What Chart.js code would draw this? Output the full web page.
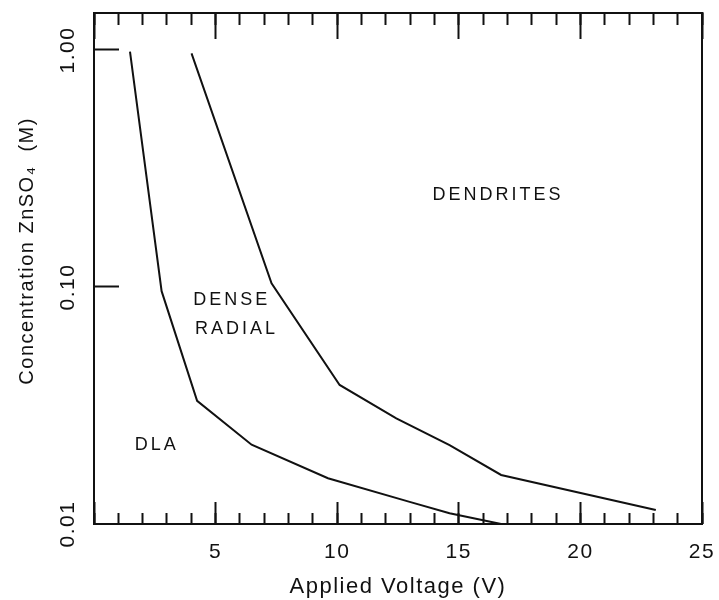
<!DOCTYPE html>
<html>
<head>
<meta charset="utf-8">
<title>ZnSO4 growth morphology diagram</title>
<script src="https://cdn.jsdelivr.net/npm/chart.js@4/dist/chart.umd.min.js"></script>
<style>
    html, body { margin: 0; padding: 0; background: #ffffff; }
    #wrap { width: 719px; height: 600px; }
</style>
</head>
<body>
<div id="wrap"><canvas id="phase-chart" width="719" height="600"></canvas></div>
<script>
// DLA / dense radial boundary
const dlaVoltage = [1.48, 2.78, 4.24, 6.48, 9.62, 12.98, 14.62, 16.74];
const dlaConc = [0.985, 0.096, 0.0331, 0.0216, 0.0156, 0.0124, 0.0111, 0.0100];

// dense radial / dendrites boundary
const dendVoltage = [4.01, 7.30, 10.1, 12.43, 14.62, 16.74, 23.1];
const dendConc = [0.968, 0.1037, 0.0386, 0.0279, 0.0215, 0.0161, 0.01146];

// axes
const xRange = [0, 25];
const xMajorStep = 5;
const xMinorStep = 1;
const yRange = [0.01, 1.432];
const yTickValues = [0.01, 0.1, 1];
const yTickLabels = ['0.01', '0.10', '1.00'];
const yMarkValues = [0.1, 1];

// region names written inside the plot
const regionNames = ['DENDRITES', 'DENSE', 'RADIAL', 'DLA'];
const regionVoltage = [13.92, 4.08, 4.15, 1.68];
const regionConc = [0.244, 0.0881, 0.0665, 0.0216];

const INK = '#111111';
const FONT = '"Liberation Sans", Arial, sans-serif';

const toPoints = (xs, ys) => xs.map((x, i) => ({ x: x, y: ys[i] }));

// inward tick marks are drawn by extra zero-size axes
function tickAxis(position, step, length, extra) {
    const horizontal = position === 'top' || position === 'bottom';
    return Object.assign({
        type: horizontal ? 'linear' : 'logarithmic',
        position: position,
        min: horizontal ? xRange[0] : yRange[0],
        max: horizontal ? xRange[1] : yRange[1],
        weight: 0,
        afterFit: (s) => {
            if (horizontal) s.height = 0; else s.width = 0;
            s.paddingLeft = s.paddingRight = s.paddingTop = s.paddingBottom = 0;
        },
        ticks: { display: false, stepSize: step, autoSkip: false },
        grid: { drawOnChartArea: false, tickLength: length, tickWidth: 2, tickColor: INK },
        border: { display: false }
    }, extra || {});
}

const letterSpacingPlugin = {
    id: 'letterSpacing',
    beforeDraw(chart) {
        chart.ctx.letterSpacing = '1.5px';
    }
};

const regionLabelPlugin = {
    id: 'regionLabels',
    afterDatasetsDraw(chart) {
        const ctx = chart.ctx;
        const xs = chart.scales.x, ys = chart.scales.y;
        ctx.save();
        ctx.font = '18px ' + FONT;
        ctx.letterSpacing = '3px';
        ctx.fillStyle = INK;
        ctx.textAlign = 'left';
        ctx.textBaseline = 'middle';
        regionNames.forEach((name, i) => {
            ctx.fillText(name, xs.getPixelForValue(regionVoltage[i]), ys.getPixelForValue(regionConc[i]));
        });
        ctx.restore();
    }
};

new Chart(document.getElementById('phase-chart'), {
    type: 'line',
    data: {
        datasets: [{
            label: 'DLA boundary',
            data: toPoints(dlaVoltage, dlaConc),
            borderColor: INK,
            borderWidth: 2,
            pointRadius: 0,
            tension: 0,
            fill: false
        }, {
            label: 'Dendrite boundary',
            data: toPoints(dendVoltage, dendConc),
            borderColor: INK,
            borderWidth: 2,
            pointRadius: 0,
            tension: 0,
            fill: false
        }]
    },
    options: {
        responsive: false,
        animation: false,
        devicePixelRatio: 1,
        layout: { padding: { left: 0, right: 17, top: 13, bottom: 0 } },
        plugins: {
            legend: { display: false },
            tooltip: { enabled: false }
        },
        scales: {
            x: {
                type: 'linear',
                position: 'bottom',
                min: xRange[0],
                max: xRange[1],
                weight: 1,
                afterFit: (s) => {
                    s.height = 76;
                    // the "25" label may hang past the plot; keep the plot width fixed
                    s.paddingLeft = 0;
                    s.paddingRight = 0;
                },
                ticks: {
                    stepSize: xMajorStep,
                    autoSkip: false,
                    maxRotation: 0,
                    padding: 16,
                    color: INK,
                    font: { family: FONT, size: 21 },
                    callback: (v) => (v === 0 ? '' : String(v))
                },
                grid: { drawOnChartArea: false, drawTicks: false },
                border: { display: true, color: INK, width: 2 },
                title: {
                    display: true,
                    text: 'Applied Voltage (V)',
                    color: INK,
                    font: { family: FONT, size: 22 },
                    padding: { top: 0, bottom: 0 }
                }
            },
            xMaj: tickAxis('bottom', xMajorStep, -22),
            xMin: tickAxis('bottom', xMinorStep, -11),
            xTopMaj: tickAxis('top', xMajorStep, -26, { border: { display: true, color: INK, width: 2 } }),
            xTopMin: tickAxis('top', xMinorStep, -12),
            y: {
                type: 'logarithmic',
                position: 'left',
                min: yRange[0],
                max: yRange[1],
                weight: 1,
                afterFit: (s) => {
                    s.width = 94;
                    s.paddingTop = 0;
                    s.paddingBottom = 0;
                },
                afterBuildTicks: (s) => { s.ticks = yTickValues.map((v) => ({ value: v })); },
                ticks: {
                    autoSkip: false,
                    minRotation: 90,
                    maxRotation: 90,
                    crossAlign: 'center',
                    padding: 5,
                    color: INK,
                    font: { family: FONT, size: 21 },
                    callback: (v) => {
                        const i = yTickValues.findIndex((t) => Math.abs(t - v) < 1e-9);
                        return i < 0 ? '' : yTickLabels[i];
                    }
                },
                grid: { drawOnChartArea: false, drawTicks: false },
                border: { display: true, color: INK, width: 2 },
                title: {
                    display: true,
                    // leading spaces nudge the title up a little, as in the original
                    text: '     Concentration ZnSO\u2084  (M)',
                    color: INK,
                    font: { family: FONT, size: 20 },
                    padding: { top: 15, bottom: 0 }
                }
            },
            yMark: tickAxis('left', null, -25, {
                afterBuildTicks: (s) => { s.ticks = yMarkValues.map((v) => ({ value: v })); }
            }),
            yRight: tickAxis('right', null, 0, {
                grid: { drawOnChartArea: false, drawTicks: false },
                border: { display: true, color: INK, width: 2 }
            })
        }
    },
    plugins: [letterSpacingPlugin, regionLabelPlugin]
});
</script>
</body>
</html>
